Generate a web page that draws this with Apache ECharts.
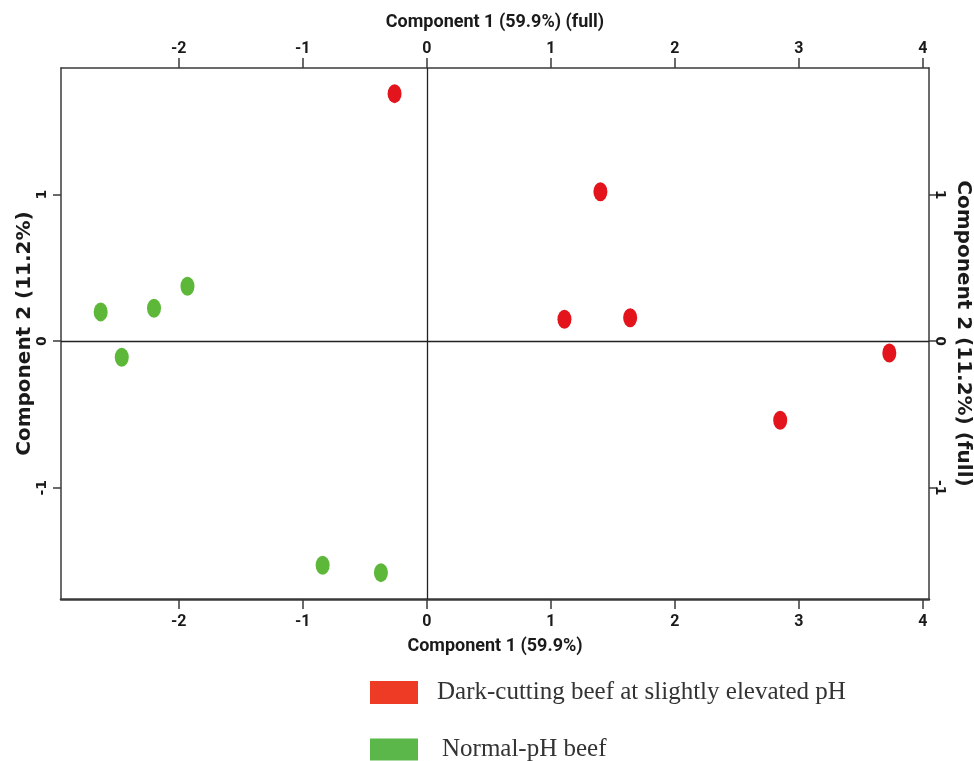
<!DOCTYPE html>
<html>
<head>
<meta charset="utf-8">
<script src="https://cdn.jsdelivr.net/npm/echarts@6/dist/echarts.min.js"></script>
<style>
html,body{margin:0;padding:0;background:#fff;overflow:hidden;width:974px;height:761px;}
#chart{width:974px;height:761px;}
</style>
</head>
<body>
<div id="chart"></div>
<script>
// ---- data ----
const seriesNames = ['Dark-cutting beef at slightly elevated pH', 'Normal-pH beef'];
const darkCuttingX = [-0.26, 1.40, 1.11, 1.64, 3.73, 2.85];
const darkCuttingY = [1.69, 1.02, 0.15, 0.16, -0.08, -0.54];
const normalX = [-1.93, -2.20, -2.63, -2.46, -0.84, -0.37];
const normalY = [0.375, 0.225, 0.20, -0.11, -1.53, -1.58];
const xTicks = [-2, -1, 0, 1, 2, 3, 4];
const yTicks = [-1, 0, 1];
const xRange = [-2.95, 4.05];
const yRange = [-1.76, 1.865];
const xTitleBottom = 'Component 1 (59.9%)';
const xTitleTop = 'Component 1 (59.9%) (full)';
const yTitleLeft = 'Component 2 (11.2%)';
const yTitleRight = 'Component 2 (11.2%) (full)';

const pairs = (xs, ys) => xs.map((x, i) => [x, ys[i]]);
const ellipse = 'path://M7,0 A7,9.5 0 1,1 7,19 A7,9.5 0 1,1 7,0 Z';
const narrow = "Roboto, 'Liberation Sans', sans-serif";
const wide = "'DejaVu Sans', Verdana, sans-serif";
const axisCol = '#3a3a3a';

function xAxisDef(pos, title, gap, margin, lw) {
  return {
    type: 'value', position: pos, min: xRange[0], max: xRange[1],
    name: title, nameLocation: 'middle', nameGap: gap, nameMoveOverlap: false,
    nameTextStyle: {fontFamily: narrow, fontWeight: 'bold', fontSize: 18, color: '#1a1a1a'},
    axisLine: {show: true, onZero: false, lineStyle: {color: axisCol, width: lw}},
    axisTick: {show: true, length: 10, customValues: xTicks, lineStyle: {color: axisCol, width: 1.5}},
    axisLabel: {show: true, customValues: xTicks, margin: margin, fontFamily: narrow, fontWeight: 'bold', fontSize: 16, color: '#1a1a1a'},
    splitLine: {show: false}
  };
}
function yAxisDef(pos, title, gap, margin, rot, nameRot) {
  return {
    type: 'value', position: pos, min: yRange[0], max: yRange[1],
    name: title, nameLocation: 'middle', nameGap: gap, nameRotate: nameRot, nameMoveOverlap: false,
    nameTextStyle: {fontFamily: wide, fontWeight: 'bold', fontSize: 20, color: '#1a1a1a'},
    axisLine: {show: true, onZero: false, lineStyle: {color: axisCol, width: 1.5}},
    axisTick: {show: true, length: 8, customValues: yTicks, lineStyle: {color: axisCol, width: 1.5}},
    axisLabel: {show: true, customValues: yTicks, rotate: rot, margin: margin, fontFamily: wide, fontWeight: 'bold', fontSize: 14, color: '#1a1a1a'},
    splitLine: {show: false}
  };
}

const chart = echarts.init(document.getElementById('chart'), null, {renderer: 'canvas', width: 974, height: 761});
chart.setOption({
  backgroundColor: '#ffffff',
  animation: false,
  grid: {left: 61, right: 45, top: 68, bottom: 162, containLabel: false, outerBoundsMode: 'none'},
  xAxis: [
    xAxisDef('bottom', xTitleBottom, 38, 15, 2.5),
    xAxisDef('top', xTitleTop, 37, 11, 1.5)
  ],
  yAxis: [
    yAxisDef('left', yTitleLeft, 26, 12, 90, 90),
    yAxisDef('right', yTitleRight, 24, 4, -90, -90)
  ],
  legend: [
    {
      data: [seriesNames[0]], left: 370, top: 680, orient: 'horizontal', padding: 0,
      icon: 'rect', itemWidth: 48, itemHeight: 23, selectedMode: false,
      itemStyle: {color: '#ee3b25'},
      textStyle: {fontFamily: "'Liberation Serif', 'Times New Roman', serif", fontSize: 25, color: '#333', padding: [0, 0, 0, 14]}
    },
    {
      data: [seriesNames[1]], left: 370, top: 737, orient: 'horizontal', padding: 0,
      icon: 'rect', itemWidth: 48, itemHeight: 22, selectedMode: false,
      itemStyle: {color: '#5bb74a'},
      textStyle: {fontFamily: "'Liberation Serif', 'Times New Roman', serif", fontSize: 25, color: '#333', padding: [0, 0, 0, 19]}
    }
  ],
  series: [
    {
      name: seriesNames[0], type: 'scatter', xAxisIndex: 0, yAxisIndex: 0,
      symbol: ellipse, symbolSize: [14, 19],
      itemStyle: {color: '#e3141c', opacity: 1},
      data: pairs(darkCuttingX, darkCuttingY),
      markLine: {
        silent: true, symbol: 'none', label: {show: false},
        lineStyle: {color: '#222', width: 1.3, type: 'solid'},
        data: [{xAxis: 0}, {yAxis: 0}]
      },
      z: 3
    },
    {
      name: seriesNames[1], type: 'scatter', xAxisIndex: 0, yAxisIndex: 0,
      symbol: ellipse, symbolSize: [14, 19],
      itemStyle: {color: '#5db83a', opacity: 1},
      data: pairs(normalX, normalY),
      z: 3
    }
  ]
});
</script>
</body>
</html>
